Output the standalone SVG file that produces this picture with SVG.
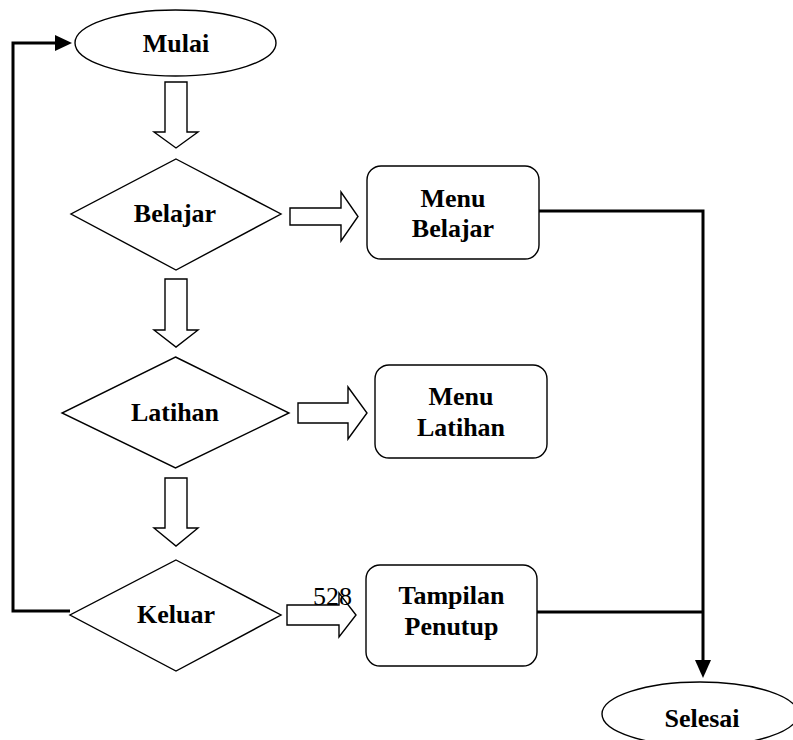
<svg xmlns="http://www.w3.org/2000/svg" width="793" height="740" viewBox="0 0 793 740">
  <style>
    .shape { fill: #fff; stroke: #000; stroke-width: 1.4; }
    .block { fill: #fff; stroke: #000; stroke-width: 1.4; stroke-linejoin: miter; }
    .wire { fill: none; stroke: #000; stroke-width: 3; }
    .label { font-family: "Liberation Serif", "Times New Roman", serif; font-weight: bold; font-size: 26px; fill: #000; text-anchor: middle; }
    .num { font-family: "Liberation Serif", "Times New Roman", serif; font-size: 26px; fill: #000; }
  </style>
  <defs>
    <marker id="head" viewBox="0 0 10 10" refX="10" refY="5" markerWidth="6" markerHeight="6" markerUnits="strokeWidth" orient="auto">
      <path d="M0,0 L10,5 L0,10 Z" fill="#000"/>
    </marker>
  </defs>
  <rect width="793" height="740" fill="#fff"/>

  <!-- connectors -->
  <g id="connectors">
    <!-- loop back from Keluar to Mulai -->
    <polyline class="wire" points="70,611 13,611 13,43 56,43"/>
    <polygon points="55,35 72,43 55,51" fill="#000"/>
    <!-- branches into Selesai -->
    <polyline class="wire" points="539,211 703,211 703,662"/>
    <line class="wire" x1="537" y1="612" x2="703" y2="612"/>
    <polygon points="695,660 711,660 703,678" fill="#000"/>
    <!-- hollow block arrows -->
    <path class="block" d="M165,82 H187 V132 H198 L176,148 L154,132 H165 Z"/>
    <path class="block" d="M165,279 H187 V330 H198 L176,347 L154,330 H165 Z"/>
    <path class="block" d="M165,478 H187 V528 H198 L176,546 L154,528 H165 Z"/>
    <path class="block" d="M290,208 H341 V192 L358,216.5 L341,241 V225 H290 Z"/>
    <path class="block" d="M298,403 H348 V387 L367,413 L348,439 V423 H298 Z"/>
    <path class="block" d="M287,605 H339 V593 L356,615 L339,637 V625 H287 Z"/>
    <text class="num" x="313" y="605">528</text>
  </g>

  <g id="mulai">
    <ellipse class="shape" cx="175.5" cy="43" rx="100.5" ry="33"/>
    <text class="label" x="176" y="52">Mulai</text>
  </g>

  <g id="belajar">
    <polygon class="shape" points="176,159 281,214 176,270 71,214"/>
    <text class="label" x="175" y="222">Belajar</text>
  </g>

  <g id="menu-belajar">
    <rect class="shape" x="367" y="166" width="172" height="93" rx="14"/>
    <text class="label" x="453" y="207">Menu</text>
    <text class="label" x="453" y="237">Belajar</text>
  </g>

  <g id="latihan">
    <polygon class="shape" points="175.5,357 289,413 175.5,468 62,413"/>
    <text class="label" x="175" y="421">Latihan</text>
  </g>

  <g id="menu-latihan">
    <rect class="shape" x="375" y="365" width="172" height="93" rx="14"/>
    <text class="label" x="461" y="405">Menu</text>
    <text class="label" x="461" y="436">Latihan</text>
  </g>

  <g id="keluar">
    <polygon class="shape" points="176,560 281,615 176,671 70,615"/>
    <text class="label" x="176" y="623">Keluar</text>
  </g>

  <g id="tampilan-penutup">
    <rect class="shape" x="366" y="565" width="171" height="101" rx="14"/>
    <text class="label" x="451.5" y="604">Tampilan</text>
    <text class="label" x="451.5" y="635">Penutup</text>
  </g>

  <g id="selesai">
    <ellipse class="shape" cx="700" cy="714" rx="98" ry="32"/>
    <text class="label" x="702" y="727">Selesai</text>
  </g>
</svg>
